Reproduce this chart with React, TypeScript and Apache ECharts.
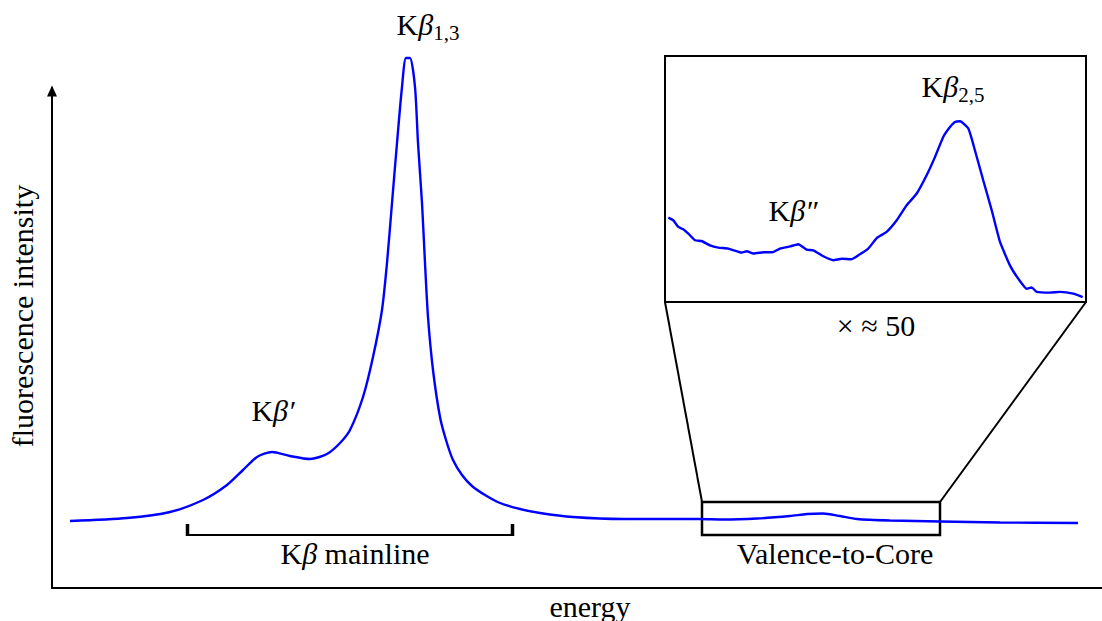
import React, { useEffect, useRef } from "react";
import * as echarts from "echarts";

// Main Kβ emission spectrum (arbitrary energy units, arbitrary intensity)
const mainEnergy = [
  1.8, 7.5, 11.8, 15.1, 17.5, 19.1, 20.5, 22.0, 23.8, 25.8, 27.5, 28.8, 29.8,
  31.1, 32.1, 33.0, 33.5, 34.0, 34.5, 35.0, 35.4, 35.8, 36.3, 36.6, 37.0, 37.3,
  37.6, 38.1, 38.8, 39.4, 40.1, 41.0, 42.0, 43.3, 44.8, 46.8, 48.8, 52.1, 57.1,
  62.1, 64.8, 67.1, 70.5, 73.8, 75.5, 77.1, 78.8, 80.5, 83.8, 88.8, 94.8, 102.6,
];
const mainIntensity = [
  13.4, 14.0, 15.2, 17.6, 20.6, 23.6, 26.2, 27.2, 26.4, 25.8, 26.8, 29.0, 31.6,
  38.2, 46.2, 55.6, 65.0, 77.0, 89.0, 100.2, 106.0, 106.0, 100.2, 89.0, 77.0,
  65.0, 54.2, 43.6, 34.2, 29.6, 25.6, 22.6, 20.4, 18.6, 17.0, 15.8, 15.0, 14.2,
  13.8, 13.8, 13.8, 13.7, 13.9, 14.4, 14.8, 14.9, 14.4, 13.8, 13.5, 13.3, 13.1,
  13.0,
];

// Valence-to-core region, magnified (×≈50)
const vtcEnergy = [
  65.19, 65.47, 65.75, 66.03, 66.32, 66.7, 67.07, 67.54, 68.01, 68.58, 69.34,
  69.62, 69.99, 70.56, 71.12, 71.5, 72.07, 72.54, 73.01, 73.38, 73.95, 74.51,
  74.99, 75.55, 76.02, 76.49, 76.97, 77.53, 78.1, 78.66, 79.23, 79.79, 80.26,
  80.73, 81.11, 81.39, 81.68, 82.15, 82.52, 82.99, 83.47, 83.94, 84.5, 84.97,
  85.45, 85.73, 86.01, 86.76, 87.33, 88.08, 88.61,
];
const vtcIntensity = [
  34.3, 33.2, 30.5, 29.6, 27.8, 25.1, 24.8, 23.0, 22.1, 21.7, 20.1, 20.6, 19.7,
  20.2, 20.3, 21.7, 22.6, 23.5, 21.3, 21.0, 18.6, 17.0, 17.6, 17.4, 19.4, 21.7,
  26.0, 28.5, 33.2, 39.3, 44.1, 51.5, 58.9, 67.1, 71.1, 73.2, 73.5, 70.5, 61.7,
  49.5, 37.3, 24.4, 14.9, 9.5, 5.4, 5.9, 4.1, 3.8, 4.1, 3.4, 2.0,
];

// Annotated ranges
const mainlineRange = [13.5, 46.1];
const vtcRange = [65.0, 88.8];
const vtcBoxIntensity = [10.6, 17.2];
const bracketIntensity = [10.6, 12.8];

const FONT = "'Liberation Serif', 'Times New Roman', serif";
const FS = 30;

function kLabel(greekSuffix: string, sub?: string) {
  return sub
    ? `{n|K}{i|${greekSuffix}}{s|${sub}}`
    : `{n|K}{i|${greekSuffix}}`;
}
const rich = {
  n: { fontFamily: FONT, fontSize: FS, lineHeight: 38, fill: "#000" },
  i: { fontFamily: FONT, fontSize: FS, lineHeight: 38, fontStyle: "italic", fill: "#000" },
  s: { fontFamily: FONT, fontSize: 21, lineHeight: 22, verticalAlign: "bottom", fill: "#000" },
};

function txt(text: string, x: number, y: number, extra: any = {}) {
  return {
    type: "text",
    x,
    y,
    silent: true,
    ...extra,
    style: {
      text,
      fontFamily: FONT,
      fontSize: FS,
      fill: "#000",
      align: "center",
      verticalAlign: "middle",
      rich,
    },
  };
}

export default function App() {
  const ref = useRef<HTMLDivElement>(null);
  useEffect(() => {
    const chart = echarts.init(ref.current!, null, { renderer: "svg" });
    const hidden = {
      axisLine: { show: false },
      axisTick: { show: false },
      axisLabel: { show: false },
      splitLine: { show: false },
    };
    chart.setOption({
      animation: false,
      backgroundColor: "#fff",
      grid: [
        { left: 52, right: 0, top: 88, bottom: 33 },
        {
          left: 665,
          top: 56,
          width: 421,
          height: 246,
          show: true,
          borderColor: "#000",
          borderWidth: 2,
          backgroundColor: "transparent",
        },
      ],
      xAxis: [
        {
          type: "value",
          gridIndex: 0,
          min: 0,
          max: 105,
          axisLine: { show: true, onZero: false, lineStyle: { color: "#000", width: 2 } },
          axisTick: { show: false },
          axisLabel: { show: false },
          splitLine: { show: false },
        },
        { type: "value", gridIndex: 1, min: vtcRange[0], max: vtcRange[1], ...hidden },
      ],
      yAxis: [
        {
          type: "value",
          gridIndex: 0,
          min: 0,
          max: 100,
          axisLine: {
            show: true,
            onZero: false,
            symbol: ["none", "triangle"],
            symbolSize: [10, 11],
            symbolOffset: [0, -3],
            lineStyle: { color: "#000", width: 2 },
          },
          axisTick: { show: false },
          axisLabel: { show: false },
          splitLine: { show: false },
        },
        { type: "value", gridIndex: 1, min: 0, max: 100, ...hidden },
      ],
      series: [
        {
          type: "line",
          xAxisIndex: 0,
          yAxisIndex: 0,
          data: mainEnergy.map((e, i) => [e, mainIntensity[i]]),
          showSymbol: false,
          smooth: 0.25,
          clip: false,
          lineStyle: { color: "#0000ff", width: 2.4 },
          silent: true,
        },
        {
          type: "line",
          xAxisIndex: 1,
          yAxisIndex: 1,
          data: vtcEnergy.map((e, i) => [e, vtcIntensity[i]]),
          showSymbol: false,
          smooth: 0.15,
          clip: false,
          lineStyle: { color: "#0000ff", width: 2.4 },
          silent: true,
        },
      ],
    });

    const p = (x: number, y: number) => chart.convertToPixel({ gridIndex: 0 }, [x, y]) as number[];
    const q = (x: number, y: number) => chart.convertToPixel({ gridIndex: 1 }, [x, y]) as number[];
    const boxTL = p(vtcRange[0], vtcBoxIntensity[1]);
    const boxBR = p(vtcRange[1], vtcBoxIntensity[0]);
    const insetBL = q(vtcRange[0], 0);
    const insetBR = q(vtcRange[1], 0);
    const bL = p(mainlineRange[0], bracketIntensity[0]);
    const bR = p(mainlineRange[1], bracketIntensity[0]);
    const bTop = p(mainlineRange[0], bracketIntensity[1])[1];
    const lineStyle = { stroke: "#000", lineWidth: 2, fill: "none" };

    chart.setOption({
      graphic: [
        {
          type: "rect",
          silent: true,
          shape: { x: boxTL[0], y: boxTL[1], width: boxBR[0] - boxTL[0], height: boxBR[1] - boxTL[1] },
          style: { stroke: "#000", lineWidth: 2.5, fill: "none" },
        },
        {
          type: "line",
          silent: true,
          shape: { x1: boxTL[0], y1: boxTL[1], x2: insetBL[0], y2: insetBL[1] },
          style: lineStyle,
        },
        {
          type: "line",
          silent: true,
          shape: { x1: boxBR[0], y1: boxTL[1], x2: insetBR[0], y2: insetBR[1] },
          style: lineStyle,
        },
        {
          type: "line",
          silent: true,
          shape: { x1: bL[0], y1: bL[1], x2: bR[0], y2: bR[1] },
          style: lineStyle,
        },
        {
          type: "line",
          silent: true,
          shape: { x1: bL[0] + 0.5, y1: bL[1] + 1, x2: bL[0] + 0.5, y2: bTop },
          style: { stroke: "#000", lineWidth: 3.5 },
        },
        {
          type: "line",
          silent: true,
          shape: { x1: bR[0] - 0.5, y1: bR[1] + 1, x2: bR[0] - 0.5, y2: bTop },
          style: { stroke: "#000", lineWidth: 3.5 },
        },
        txt(kLabel("β", "1,3"), 428, 24),
        txt(kLabel("β′"), 273, 410),
        txt(kLabel("β″"), 793, 210),
        txt(kLabel("β", "2,5"), 953, 86),
        txt("× ≈ 50", 876, 325),
        txt("{n|K}{i|β}{n| mainline}", 355, 553),
        txt("Valence-to-Core", 835, 553),
        txt("energy", 590, 606),
        txt("fluorescence intensity", 22, 316, { rotation: Math.PI / 2 }),
      ],
    });

    return () => chart.dispose();
  }, []);
  return (
    <div
      ref={ref}
      style={{ position: "fixed", left: 0, top: 0, width: 1102, height: 621 }}
    />
  );
}
